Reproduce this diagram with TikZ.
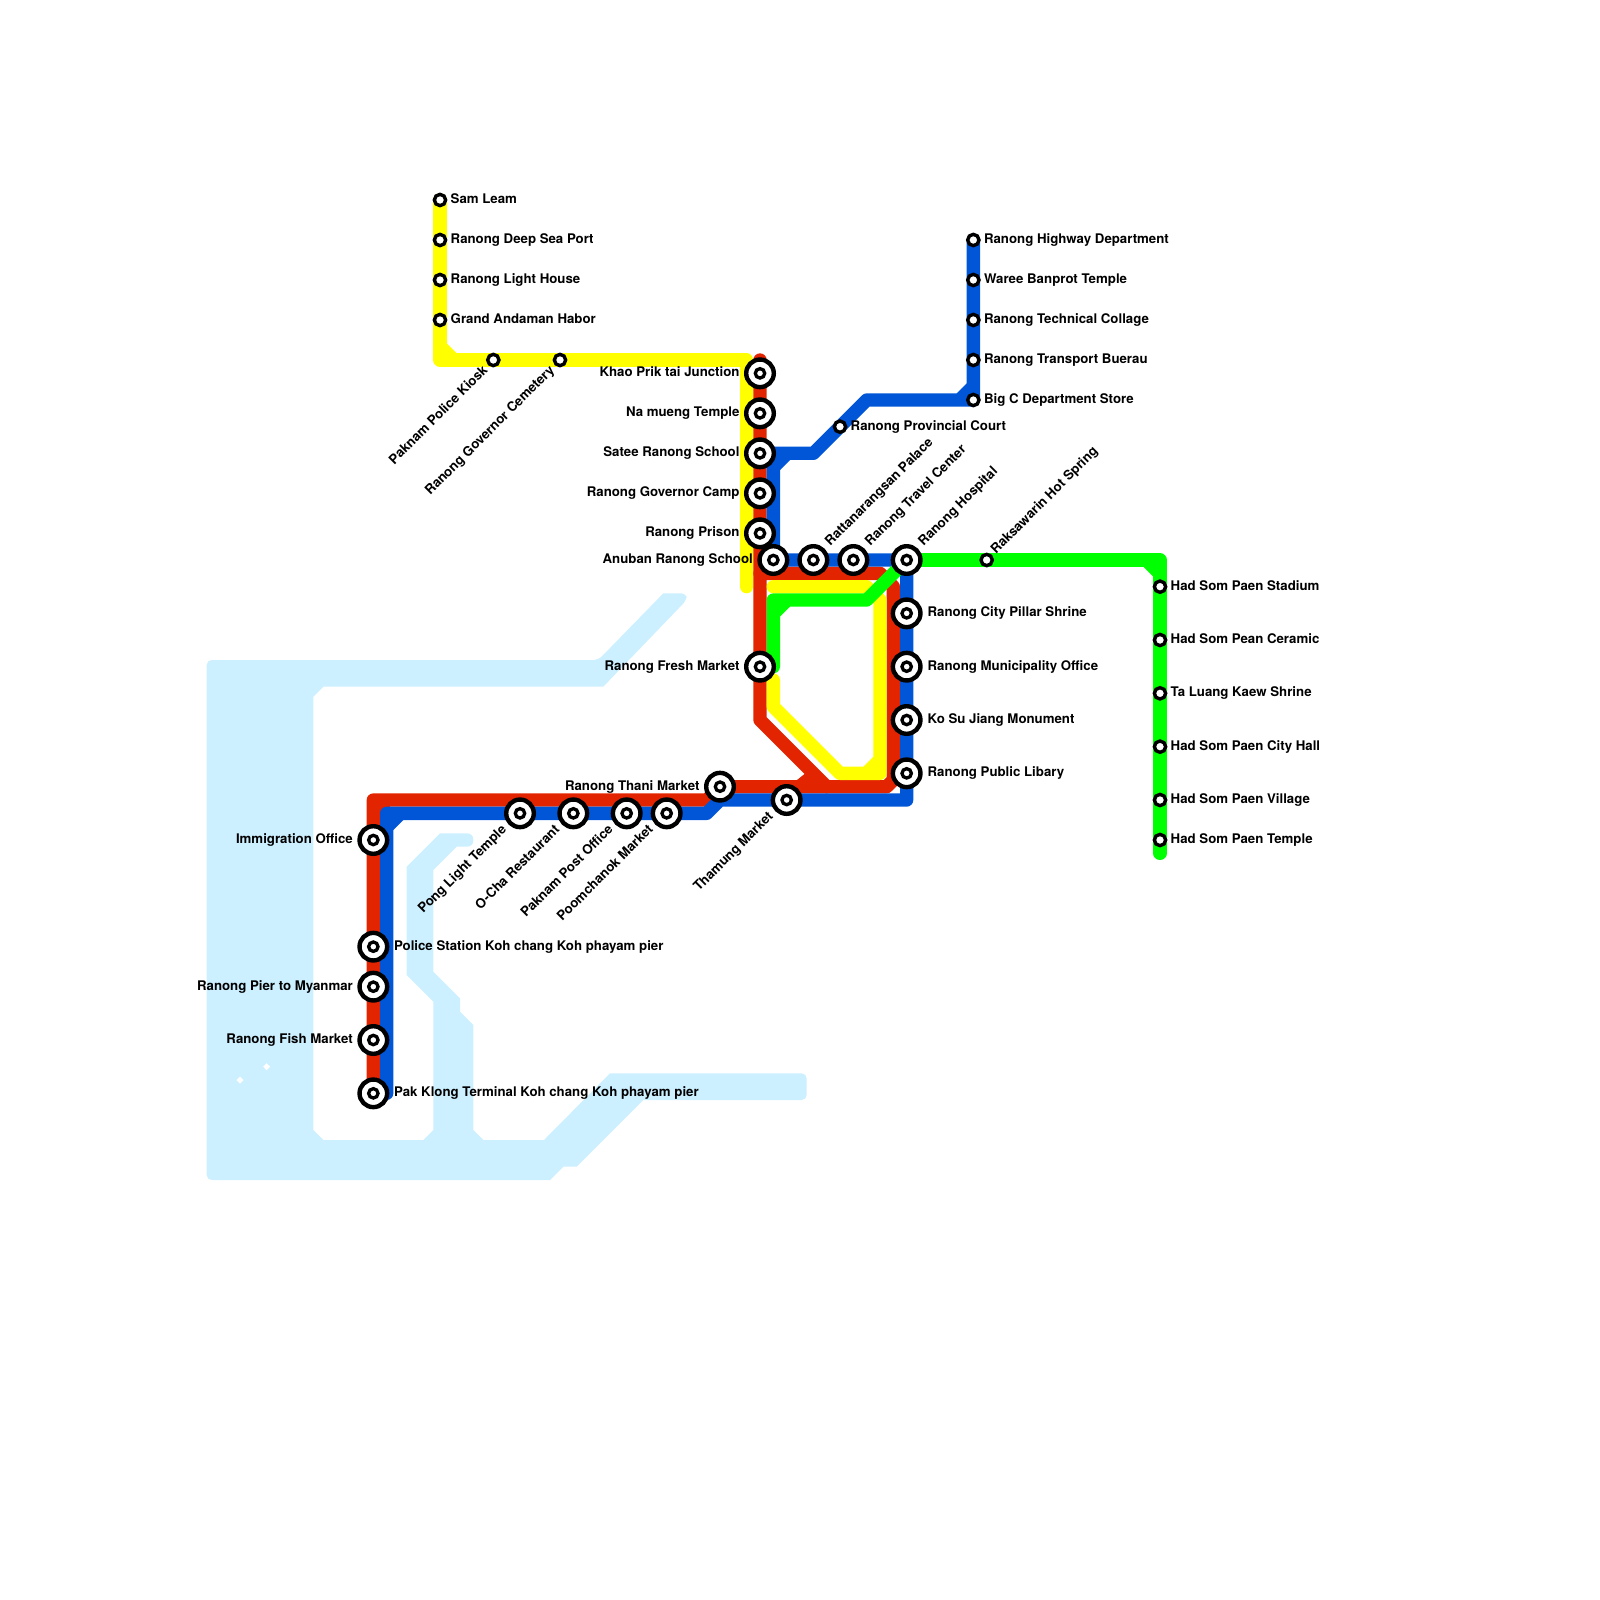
\documentclass[tikz,border=0pt]{standalone}
\usepackage{fontspec}
\setmainfont{TeX Gyre Heros}
\pgfdeclarelayer{bg}
\pgfsetlayers{bg,main}
\definecolor{cred}{HTML}{E32400}
\definecolor{cblue}{HTML}{0056D6}
\definecolor{cyel}{HTML}{FFFF00}
\definecolor{cgrn}{HTML}{00FF00}
\definecolor{cwat}{HTML}{CCF0FF}
\newcommand{\cham}[5]{\fill[#1] ({#2+(#4)*10},#3) -- (#2,{#3+(#5)*10}) -- ({#2-(#4)*2},{#3+(#5)*10}) -- ({#2-(#4)*2},{#3-(#5)*2}) -- ({#2+(#4)*10},{#3-(#5)*2}) -- cycle;}
\tikzset{
 x=1pt,y=-1pt,
 ln/.style={line width=13.33pt,line join=round,line cap=round},
 bigst/.style={circle,draw=black,fill=white,line width=4.4pt,minimum size=27.6pt,inner sep=0pt,outer sep=0pt,
   path picture={\draw[black,line width=3.3pt] (path picture bounding box.center) circle (4.7pt);}},
 smst/.style={circle,draw=black,fill=white,line width=3.4pt,minimum size=11.3pt,inner sep=0pt,outer sep=0pt},
 lb/.style={inner sep=0pt,outer sep=0pt,font=\bfseries\fontsize{13.25}{16}\selectfont,text=black},
 lr/.style={lb,anchor=base west},
 ll/.style={lb,anchor=base east},
 lu/.style={lb,anchor=base west,rotate=45},
 ld/.style={lb,anchor=base east,rotate=45},
}
\begin{document}
\begin{tikzpicture}
\useasboundingbox (0,0) rectangle (1600,1600);
% yellow-line stations
\node[smst] (y1) at (440,200) {};
\node[smst] (y2) at (440,240) {};
\node[smst] (y3) at (440,280) {};
\node[smst] (y4) at (440,320) {};
\node[smst] (y5) at (493.33,360) {};
\node[smst] (y6) at (560,360) {};
% central
\node[bigst] (c1) at (760,373.33) {};
\node[bigst] (c2) at (760,413.33) {};
\node[bigst] (c3) at (760,453.33) {};
\node[bigst] (c4) at (760,493.33) {};
\node[bigst] (c5) at (760,533.33) {};
\node[bigst] (c6) at (773.33,560) {};
\node[bigst] (c7) at (813.33,560) {};
\node[bigst] (c8) at (853.33,560) {};
\node[bigst] (c9) at (906.67,560) {};
\node[bigst] (c10) at (760,666.67) {};
\node[bigst] (r1) at (906.67,613.33) {};
\node[bigst] (r2) at (906.67,666.67) {};
\node[bigst] (r3) at (906.67,720) {};
\node[bigst] (r4) at (906.67,773.33) {};
\node[bigst] (m1) at (720,786.67) {};
\node[bigst] (m2) at (786.67,800) {};
\node[bigst] (b1) at (520,813.33) {};
\node[bigst] (b2) at (573.33,813.33) {};
\node[bigst] (b3) at (626.67,813.33) {};
\node[bigst] (b4) at (666.67,813.33) {};
\node[bigst] (w1) at (373.33,840) {};
\node[bigst] (w2) at (373.33,946.67) {};
\node[bigst] (w3) at (373.33,986.67) {};
\node[bigst] (w4) at (373.33,1040) {};
\node[bigst] (w5) at (373.33,1093.33) {};
% small on blue branch
\node[smst] (n0) at (840,426.67) {};
\node[smst] (n1) at (973.33,240) {};
\node[smst] (n2) at (973.33,280) {};
\node[smst] (n3) at (973.33,320) {};
\node[smst] (n4) at (973.33,360) {};
\node[smst] (n5) at (973.33,400) {};
% green
\node[smst] (g0) at (986.67,560) {};
\node[smst] (g1) at (1160,586.67) {};
\node[smst] (g2) at (1160,640) {};
\node[smst] (g3) at (1160,693.33) {};
\node[smst] (g4) at (1160,746.67) {};
\node[smst] (g5) at (1160,800) {};
\node[smst] (g6) at (1160,840) {};
% corner points
\coordinate (ya) at (440,360);
\coordinate (yb) at (746.67,360);
\coordinate (yc) at (746.67,586.67);
\coordinate (za) at (773.33,680);
\coordinate (zb) at (773.33,706.67);
\coordinate (zc) at (840,773.33);
\coordinate (zd) at (880,773.33);
\coordinate (ze) at (880,600);
\coordinate (zf) at (866.67,586.67);
\coordinate (zg) at (773.33,586.67);
\coordinate (ra) at (760,360);
\coordinate (rb) at (760,720);
\coordinate (rc) at (826.67,786.67);
\coordinate (rd) at (760,573.33);
\coordinate (re) at (880,573.33);
\coordinate (rf) at (893.33,586.67);
\coordinate (rg) at (893.33,780);
\coordinate (rh) at (886.67,786.67);
\coordinate (ri) at (373.33,800);
\coordinate (rj) at (706.67,800);
\coordinate (ua) at (386.67,1093.33);
\coordinate (ub) at (386.67,813.33);
\coordinate (uc) at (706.67,813.33);
\coordinate (ud) at (720,800);
\coordinate (ue) at (906.67,800);
\coordinate (uf) at (773.33,453.33);
\coordinate (ug) at (813.33,453.33);
\coordinate (uh) at (866.67,400);
\coordinate (ga) at (866.67,600);
\coordinate (gb) at (773.33,600);
\coordinate (gc) at (773.33,666.67);
\coordinate (gd) at (1160,560);
\coordinate (ge) at (1160,853.33);
\begin{pgfonlayer}{bg}
% water
\fill[cwat] [rounded corners=5pt] (206.67,660) -- (598.3,660) [sharp corners] -- (663.3,593.33) [rounded corners=5pt] -- (686.67,593.33) -- (686.67,600) [sharp corners] -- (603.3,686.67)
 -- (323.33,686.67) -- (313.33,696.67) -- (313.33,1130) -- (323.33,1140) -- (423.33,1140) -- (433.33,1130) -- (433.33,1001.67) -- (406.67,975) -- (406.67,866.67) -- (440,833.33)
 [rounded corners=6pt] -- (473.33,833.33) -- (473.33,846.67) [sharp corners] -- (456.67,846.67) -- (433.33,870) -- (433.33,971.67) -- (460,998.33) -- (460,1011.67) -- (473.33,1025)
 -- (473.33,1130) -- (483.33,1140) -- (544,1140) -- (610,1073.33) [rounded corners=5pt] -- (806.67,1073.33) -- (806.67,1100) [sharp corners] -- (643.33,1100) -- (576.67,1166.67) -- (563.33,1166.67) -- (550,1180)
 [rounded corners=5pt] -- (206.67,1180) -- cycle;
\fill[white] (240,1076.5) -- (243.5,1080) -- (240,1083.5) -- (236.5,1080) -- cycle;
\fill[white] (266.67,1063.2) -- (270.2,1066.67) -- (266.67,1070.2) -- (263.2,1066.67) -- cycle;
% red
\draw[ln,cred] (ra) -- (rb) -- (rc);
\draw[ln,cred] (rd) -- (re) -- (rf) -- (rg) -- (rh) -- (m1.center) -- (rj) -- (ri) -- (w5.center);
\fill[cred] (797,780) -- (804.5,774) -- (815,778) -- (815,785) -- (797,785) -- cycle;
\cham{cred}{380}{806.67}{1}{1}
% yellow
\draw[ln,cyel] (y1.center) -- (ya) -- (yb) -- (yc);
\cham{cyel}{446.67}{353.33}{1}{-1}
\draw[ln,cyel] (za) -- (zb) -- (zc) -- (zd) -- (ze) -- (zf) -- (zg);
\cham{cyel}{873.33}{766.67}{-1}{-1}
% blue
\draw[ln,cblue] (ua) -- (ub) -- (uc) -- (ud) -- (ue) -- (c9.center) -- (c6.center) -- (uf) -- (c3.center);
\draw[ln,cblue] (uf) -- (ug) -- (uh) -- (n5.center) -- (n1.center);
\cham{cblue}{393.33}{820}{1}{1}
\cham{cblue}{780}{460}{1}{1}
\cham{cblue}{966.67}{393.33}{-1}{-1}
% green
\draw[ln,cgrn] (c9.center) -- (ga) -- (gb) -- (gc);
\cham{cgrn}{780}{606.67}{1}{1}
\draw[ln,cgrn] (c9.center) -- (gd) -- (ge);
\cham{cgrn}{1153.33}{566.67}{-1}{1}
\end{pgfonlayer}
% labels
\node[lr] (ty1) at ([shift={(10.7,3.5)}]y1.center) {Sam Leam};
\node[lr] (ty2) at ([shift={(10.7,3.5)}]y2.center) {Ranong Deep Sea Port};
\node[lr] (ty3) at ([shift={(10.7,3.5)}]y3.center) {Ranong Light House};
\node[lr] (ty4) at ([shift={(10.7,3.5)}]y4.center) {Grand Andaman Habor};
\node[ld] (ty5) at ([shift={(-5,11)}]y5.center) {Paknam Police Kiosk};
\node[ld] (ty6) at ([shift={(-5,11)}]y6.center) {Ranong Governor Cemetery};
\node[ll] (tc1) at ([shift={(-20.5,3.5)}]c1.center) {Khao Prik tai Junction};
\node[ll] (tc2) at ([shift={(-20.5,3.5)}]c2.center) {Na mueng Temple};
\node[ll] (tc3) at ([shift={(-20.5,3.5)}]c3.center) {Satee Ranong School};
\node[ll] (tc4) at ([shift={(-20.5,3.5)}]c4.center) {Ranong Governor Camp};
\node[ll] (tc5) at ([shift={(-20.5,3.5)}]c5.center) {Ranong Prison};
\node[ll] (tc6) at ([shift={(-20.5,3.5)}]c6.center) {Anuban Ranong School};
\node[lu] (tc7) at ([shift={(17,-13.3)}]c7.center) {Rattanarangsan Palace};
\node[lu] (tc8) at ([shift={(17,-13.3)}]c8.center) {Ranong Travel Center};
\node[lu] (tc9) at ([shift={(17,-13.3)}]c9.center) {Ranong Hospital};
\node[ll] (tc10) at ([shift={(-20.5,3.5)}]c10.center) {Ranong Fresh Market};
\node[lr] (tr1) at ([shift={(21,3.5)}]r1.center) {Ranong City Pillar Shrine};
\node[lr] (tr2) at ([shift={(21,3.5)}]r2.center) {Ranong Municipality Office};
\node[lr] (tr3) at ([shift={(21,3.5)}]r3.center) {Ko Su Jiang Monument};
\node[lr] (tr4) at ([shift={(21,3.5)}]r4.center) {Ranong Public Libary};
\node[ll] (tm1) at ([shift={(-20.5,3.5)}]m1.center) {Ranong Thani Market};
\node[ld] (tm2) at ([shift={(-13,17)}]m2.center) {Thamung Market};
\node[ld] (tb1) at ([shift={(-13,17)}]b1.center) {Pong Light Temple};
\node[ld] (tb2) at ([shift={(-13,17)}]b2.center) {O-Cha Restaurant};
\node[ld] (tb3) at ([shift={(-13,17)}]b3.center) {Paknam Post Office};
\node[ld] (tb4) at ([shift={(-13,17)}]b4.center) {Poomchanok Market};
\node[ll] (tw1) at ([shift={(-20.5,3.5)}]w1.center) {Immigration Office};
\node[lr] (tw2) at ([shift={(20.67,3.5)}]w2.center) {Police Station Koh chang Koh phayam pier};
\node[ll] (tw3) at ([shift={(-20.5,3.5)}]w3.center) {Ranong Pier to Myanmar};
\node[ll] (tw4) at ([shift={(-20.5,3.5)}]w4.center) {Ranong Fish Market};
\node[lr] (tw5) at ([shift={(20.67,3.5)}]w5.center) {Pak Klong Terminal Koh chang Koh phayam pier};
\node[lr] (tn0) at ([shift={(10.7,3.5)}]n0.center) {Ranong Provincial Court};
\node[lr] (tn1) at ([shift={(10.7,3.5)}]n1.center) {Ranong Highway Department};
\node[lr] (tn2) at ([shift={(10.7,3.5)}]n2.center) {Waree Banprot Temple};
\node[lr] (tn3) at ([shift={(10.7,3.5)}]n3.center) {Ranong Technical Collage};
\node[lr] (tn4) at ([shift={(10.7,3.5)}]n4.center) {Ranong Transport Buerau};
\node[lr] (tn5) at ([shift={(10.7,3.5)}]n5.center) {Big C Department Store};
\node[lu] (tg0) at ([shift={(9.5,-5.5)}]g0.center) {Raksawarin Hot Spring};
\node[lr] (tg1) at ([shift={(10.7,3.5)}]g1.center) {Had Som Paen Stadium};
\node[lr] (tg2) at ([shift={(10.7,3.5)}]g2.center) {Had Som Pean Ceramic};
\node[lr] (tg3) at ([shift={(10.7,3.5)}]g3.center) {Ta Luang Kaew Shrine};
\node[lr] (tg4) at ([shift={(10.7,3.5)}]g4.center) {Had Som Paen City Hall};
\node[lr] (tg5) at ([shift={(10.7,3.5)}]g5.center) {Had Som Paen Village};
\node[lr] (tg6) at ([shift={(10.7,3.5)}]g6.center) {Had Som Paen Temple};
\end{tikzpicture}
\end{document}
